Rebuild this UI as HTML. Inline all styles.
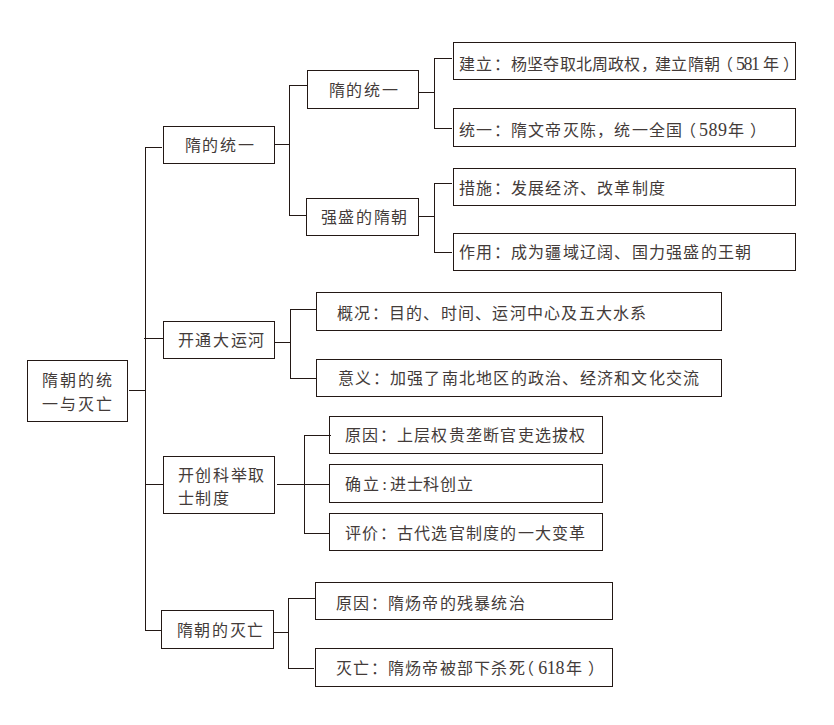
<!DOCTYPE html>
<html lang="zh-CN">
<head>
<meta charset="utf-8">
<style>
html,body{margin:0;padding:0;background:#fff;}
body{width:834px;height:725px;position:relative;overflow:hidden;font-family:"Liberation Serif",serif;color:#433b39;}
.b{position:absolute;border:1px solid #231815;box-sizing:border-box;}
.h{position:absolute;height:1px;background:#231815;}
.v{position:absolute;width:1px;background:#231815;}
.t{position:absolute;font-size:16px;line-height:17px;letter-spacing:1.25px;margin-left:-1px;white-space:nowrap;}
.n{font-family:"Liberation Serif",serif;font-size:18.5px;letter-spacing:-0.9px;line-height:1px;}
.w{letter-spacing:1.65px;margin-left:-0.4px;}
.hw{font-feature-settings:"halt";}
.s{position:absolute;font-size:16px;line-height:17px;letter-spacing:1.25px;white-space:nowrap;}
.d{font-size:18px;}
</style>
</head>
<body>
<!-- root -->
<div class="b" style="left:27px;top:360px;width:101px;height:62px"></div>
<div class="t w" style="left:42px;top:372px;letter-spacing:2.15px">隋朝的统</div>
<div class="t w" style="left:42px;top:396px;letter-spacing:2.15px">一与灭亡</div>
<div class="h" style="left:129px;top:390px;width:17px"></div>
<!-- main spine -->
<div class="v" style="left:145px;top:147px;height:484px"></div>

<!-- L1 A -->
<div class="h" style="left:145px;top:147px;width:17px"></div>
<div class="b" style="left:163px;top:126px;width:112px;height:38px"></div>
<div class="t w" style="left:185px;top:137px">隋的统一</div>
<div class="h" style="left:275px;top:144px;width:15px"></div>
<div class="v" style="left:289px;top:85px;height:131px"></div>
<div class="h" style="left:289px;top:85px;width:18px"></div>
<div class="h" style="left:289px;top:215px;width:17px"></div>
<!-- L2 a1 -->
<div class="b" style="left:307px;top:70px;width:112px;height:39px"></div>
<div class="t w" style="left:329px;top:82px">隋的统一</div>
<div class="h" style="left:419px;top:92px;width:15px"></div>
<div class="v" style="left:434px;top:58px;height:71px"></div>
<div class="h" style="left:434px;top:58px;width:18px"></div>
<div class="h" style="left:434px;top:128px;width:18px"></div>
<div class="b" style="left:453px;top:42px;width:343px;height:38px"></div>
<div class="s" style="left:459px;top:56px">建立：</div>
<div class="s" style="left:511.2px;top:56px;letter-spacing:0.13px">杨坚夺取北周政权</div>
<div class="s" style="left:641px;top:56px">，</div>
<div class="s" style="left:655.2px;top:56px;letter-spacing:0.3px">建立隋朝</div>
<div class="s" style="left:717px;top:56px">（</div>
<div class="s d" style="left:736px;top:56px;letter-spacing:-1.5px">581</div>
<div class="s" style="left:762.6px;top:56px">年</div>
<div class="s" style="left:783.2px;top:56px">）</div>
<div class="b" style="left:453px;top:108px;width:343px;height:39px"></div>
<div class="s" style="left:459px;top:122px">统一：隋文帝灭陈，统一全国</div>
<div class="s" style="left:679.6px;top:122px">（</div>
<div class="s d" style="left:699.1px;top:122px;letter-spacing:0.4px">589</div>
<div class="s" style="left:727.9px;top:122px">年</div>
<div class="s" style="left:749.5px;top:122px">）</div>
<!-- L2 a2 -->
<div class="b" style="left:306px;top:198px;width:113px;height:38px"></div>
<div class="t w" style="left:321px;top:209px">强盛的隋朝</div>
<div class="h" style="left:419px;top:216px;width:15px"></div>
<div class="v" style="left:434px;top:183px;height:70px"></div>
<div class="h" style="left:434px;top:183px;width:18px"></div>
<div class="h" style="left:434px;top:252px;width:18px"></div>
<div class="b" style="left:453px;top:168px;width:343px;height:38px"></div>
<div class="t" style="left:460px;top:180px">措施：发展经济、改革制度</div>
<div class="b" style="left:453px;top:233px;width:343px;height:38px"></div>
<div class="t" style="left:460px;top:244px">作用：成为疆域辽阔、国力强盛的王朝</div>

<!-- L1 B -->
<div class="h" style="left:144px;top:338px;width:19px"></div>
<div class="b" style="left:163px;top:321px;width:112px;height:38px"></div>
<div class="t w" style="left:178px;top:332px">开通大运河</div>
<div class="h" style="left:275px;top:342px;width:15px"></div>
<div class="v" style="left:290px;top:309px;height:70px"></div>
<div class="h" style="left:290px;top:309px;width:26px"></div>
<div class="h" style="left:290px;top:378px;width:26px"></div>
<div class="b" style="left:316px;top:292px;width:406px;height:39px"></div>
<div class="t" style="left:338px;top:305px">概况：目的、时间、运河中心及五大水系</div>
<div class="b" style="left:316px;top:359px;width:406px;height:38px"></div>
<div class="t" style="left:339px;top:370px">意义：加强了南北地区的政治、经济和文化交流</div>

<!-- L1 C -->
<div class="h" style="left:145px;top:484px;width:18px"></div>
<div class="b" style="left:163px;top:456px;width:112px;height:58px"></div>
<div class="t w" style="left:178px;top:467px">开创科举取</div>
<div class="t w" style="left:178px;top:490px">士制度</div>
<div class="h" style="left:277px;top:484px;width:52px"></div>
<div class="v" style="left:304px;top:435px;height:99px"></div>
<div class="h" style="left:304px;top:435px;width:27px"></div>
<div class="h" style="left:304px;top:533px;width:25px"></div>
<div class="b" style="left:329px;top:416px;width:274px;height:38px"></div>
<div class="t" style="left:346px;top:427px">原因：上层权贵垄断官吏选拔权</div>
<div class="b" style="left:329px;top:464px;width:274px;height:39px"></div>
<div class="s" style="left:345.4px;top:476px">确立</div>
<div class="s d" style="left:382.3px;top:476px;font-size:17px">:</div>
<div class="s" style="left:390.2px;top:476px;letter-spacing:0.6px">进士科创立</div>
<div class="b" style="left:329px;top:513px;width:274px;height:38px"></div>
<div class="t" style="left:346px;top:525px">评价：古代选官制度的一大变革</div>

<!-- L1 D -->
<div class="h" style="left:145px;top:630px;width:16px"></div>
<div class="b" style="left:161px;top:610px;width:113px;height:39px"></div>
<div class="t w" style="left:177px;top:622px">隋朝的灭亡</div>
<div class="h" style="left:274px;top:632px;width:15px"></div>
<div class="v" style="left:288px;top:598px;height:71px"></div>
<div class="h" style="left:288px;top:598px;width:27px"></div>
<div class="h" style="left:288px;top:668px;width:26px"></div>
<div class="b" style="left:315px;top:582px;width:298px;height:38px"></div>
<div class="t" style="left:337px;top:595px">原因：隋炀帝的残暴统治</div>
<div class="b" style="left:315px;top:648px;width:298px;height:39px"></div>
<div class="s" style="left:336.2px;top:660px">灭亡：隋炀帝被部下杀死</div>
<div class="s" style="left:518px;top:660px">（</div>
<div class="s d" style="left:538.2px;top:660px;letter-spacing:-0.35px">618</div>
<div class="s" style="left:566px;top:660px">年</div>
<div class="s" style="left:587.6px;top:660px">）</div>
</body>
</html>
